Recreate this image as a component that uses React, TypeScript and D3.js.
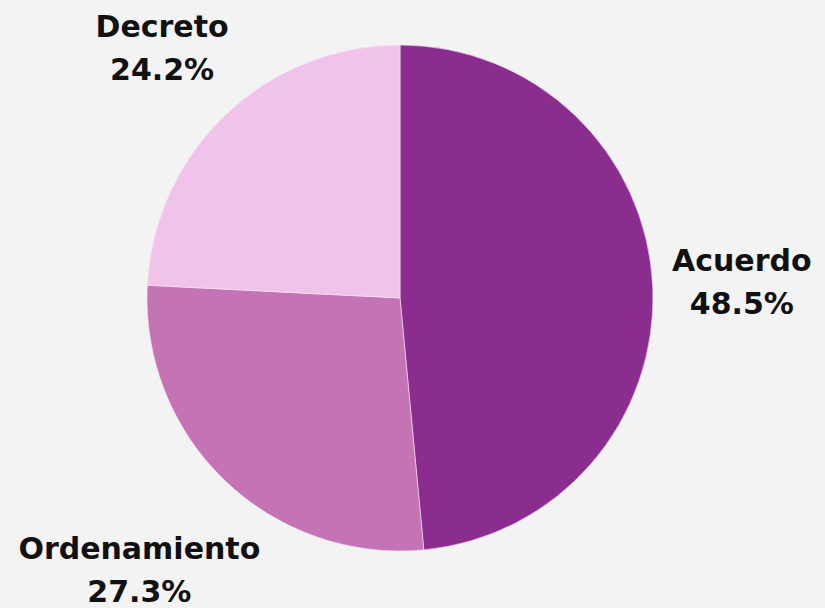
import { useEffect, useRef } from "react";
import * as d3 from "d3";

const categories = ["Acuerdo", "Ordenamiento", "Decreto"];
const shares = [48.5, 27.3, 24.2];
const colors = ["#8a2d8f", "#c474b5", "#f1c3eb"];

const W = 825;
const H = 608;

export default function App() {
    const ref = useRef<SVGSVGElement>(null);

    useEffect(() => {
        const svg = d3.select(ref.current);
        svg.selectAll("*").remove();

        const cx = 400;
        const cy = 298;
        const radius = 253;
        const gap = 19; // space between pie edge and the nearest corner of a label

        svg.append("rect").attr("width", W).attr("height", H).attr("fill", "#f3f3f3");

        // cut off glyph at the left edge of the page
        svg.append("text")
            .attr("x", -9)
            .attr("y", 197)
            .attr("font-family", "DejaVu Serif, serif")
            .attr("font-size", 30)
            .attr("fill", "#666")
            .text("l");

        const pie = d3.pie<number>().sort(null).value((d) => d);
        const arcs = pie(shares);
        const arc = d3.arc<d3.PieArcDatum<number>>().innerRadius(0).outerRadius(radius);

        const g = svg.append("g").attr("transform", `translate(${cx},${cy})`);

        g.selectAll("path")
            .data(arcs)
            .enter()
            .append("path")
            .attr("d", arc)
            .attr("fill", (d, i) => colors[i])
            .attr("stroke", "#f6e6f4")
            .attr("stroke-width", 0.6);

        // labels: push each one out along the mid angle until its box clears the pie
        arcs.forEach((d, i) => {
            const label = g.append("g");
            const t = label.append("text")
                .attr("text-anchor", "middle")
                .attr("font-family", "DejaVu Sans, sans-serif")
                .attr("font-weight", 700)
                .attr("font-size", 30)
                .attr("fill", "#111");
            t.append("tspan").attr("x", 0).attr("y", 0).text(categories[i]);
            t.append("tspan").attr("x", 0).attr("y", 43).text(shares[i].toFixed(1) + "%");

            const box = (t.node() as SVGTextElement).getBBox();
            const mid = (d.startAngle + d.endAngle) / 2;
            const ux = Math.sin(mid);
            const uy = -Math.cos(mid);

            const nearest = (r: number) => {
                const bx = r * ux;
                const by = r * uy;
                const x0 = bx - box.width / 2, x1 = bx + box.width / 2;
                const y0 = by - box.height / 2, y1 = by + box.height / 2;
                const nx = Math.max(x0, Math.min(0, x1));
                const ny = Math.max(y0, Math.min(0, y1));
                return Math.hypot(nx, ny);
            };

            let lo = 0, hi = 1000;
            for (let k = 0; k < 40; k++) {
                const m = (lo + hi) / 2;
                if (nearest(m) < radius + gap) lo = m; else hi = m;
            }
            const bx = hi * ux;
            const by = hi * uy;
            // move the text so its box centre sits at (bx, by)
            const dx = bx - (box.x + box.width / 2);
            const dy = by - (box.y + box.height / 2);
            label.attr("transform", `translate(${dx},${dy})`);
        });
    }, []);

    return <svg ref={ref} width={W} height={H} style={{ position: "absolute", left: 0, top: 0 }}></svg>;
}
